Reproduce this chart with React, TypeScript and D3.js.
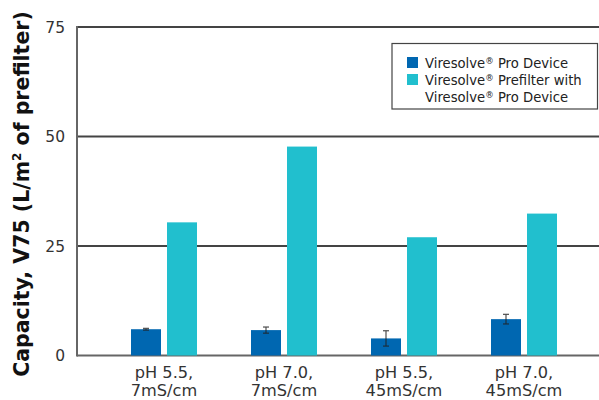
import React from 'react';
import * as d3 from 'd3';

const categories = [['pH 5.5,', '7mS/cm'], ['pH 7.0,', '7mS/cm'], ['pH 5.5,', '45mS/cm'], ['pH 7.0,', '45mS/cm']];
const proDevice = [6.0, 5.8, 3.9, 8.3];
const proDeviceErr = [0.2, 0.7, 1.75, 1.1];
const prefilter = [30.4, 47.7, 27.0, 32.4];
const yTicks = [0, 25, 50, 75];
const seriesNames = ['Pro Device', 'Prefilter with'];

const W = 599, H = 400;
const font = 'DejaVu Sans, Verdana, sans-serif';

export default function App() {
  const y = d3.scaleLinear().domain([0, 75]).range([355.5, 27]);
  const x = d3.scaleBand<number>().domain(d3.range(categories.length)).range([104, 584]);
  const barW = 30, gap = 6;
  const dark = '#0067b1', cyan = '#21bfce';

  return (
    <svg width={W} height={H} style={{ position: 'absolute', left: 0, top: 0, background: '#fff' }} fontFamily={font}>
      {/* gridlines */}
      {yTicks.map(t => (
        <g key={t}>
          <line x1={77} x2={W} y1={y(t)} y2={y(t)} stroke={t === 0 ? '#666' : '#444'} strokeWidth={2} />
          <text x={65} y={y(t)} dy="0.36em" textAnchor="end" fontSize={15.5} fill="#333">{t}</text>
        </g>
      ))}
      <line x1={77} x2={77} y1={y(75) - 1} y2={y(0) + 1} stroke="#666" strokeWidth={2} />

      {/* bars */}
      {categories.map((c, i) => {
        const cx = x(i)! + x.bandwidth() / 2;
        const bx = cx - gap / 2 - barW;
        const ex = bx + barW / 2;
        return (
          <g key={i}>
            <rect x={bx} y={y(proDevice[i])} width={barW} height={y(0) - y(proDevice[i])} fill={dark} />
            <rect x={cx + gap / 2} y={y(prefilter[i])} width={barW} height={y(0) - y(prefilter[i])} fill={cyan} />
            <g stroke="#222" strokeWidth={1.2} opacity={0.8}>
              <line x1={ex} x2={ex} y1={y(proDevice[i] + proDeviceErr[i])} y2={y(proDevice[i] - proDeviceErr[i])} />
              <line x1={ex - 3} x2={ex + 3} y1={y(proDevice[i] + proDeviceErr[i])} y2={y(proDevice[i] + proDeviceErr[i])} />
              <line x1={ex - 3} x2={ex + 3} y1={y(proDevice[i] - proDeviceErr[i])} y2={y(proDevice[i] - proDeviceErr[i])} />
            </g>
            <text x={cx} y={378} textAnchor="middle" fontSize={16.2} fill="#333">
              <tspan x={cx}>{c[0]}</tspan>
              <tspan x={cx} dy={18}>{c[1]}</tspan>
            </text>
          </g>
        );
      })}

      {/* y title */}
      <text transform="translate(29,194) rotate(-90)" textAnchor="middle" fontSize={20.5} fontWeight="bold" fill="#111">
        Capacity, V75 (L/m<tspan fontSize={12} dy={-8}>2</tspan><tspan dy={8}> of prefilter)</tspan>
      </text>

      {/* legend */}
      <rect x={392} y={43.5} width={205.5} height={65.5} fill="#fff" stroke="#444" strokeWidth={1.2} />
      <rect x={407} y={57} width={11} height={11} fill={dark} />
      <rect x={407} y={74} width={11} height={11} fill={cyan} />
      <g fontSize={13.2} fill="#222">
        <text x={425} y={67.5}>Viresolve<tspan fontSize={8.5} dy={-3.5}>®</tspan><tspan dy={3.5}> {seriesNames[0]}</tspan></text>
        <text x={425} y={84.5}>Viresolve<tspan fontSize={8.5} dy={-3.5}>®</tspan><tspan dy={3.5}> {seriesNames[1]}</tspan></text>
        <text x={425} y={101.5}>Viresolve<tspan fontSize={8.5} dy={-3.5}>®</tspan><tspan dy={3.5}> {seriesNames[0]}</tspan></text>
      </g>
    </svg>
  );
}
